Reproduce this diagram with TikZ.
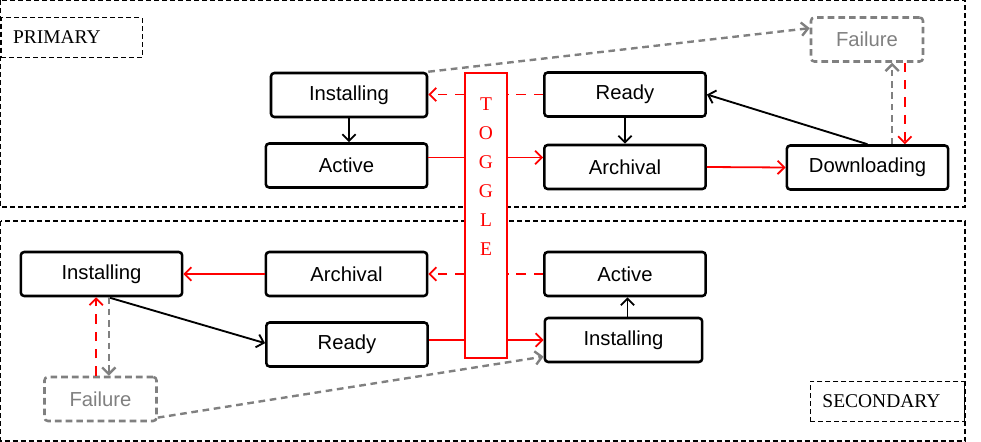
\documentclass[tikz,border=0pt]{standalone}
\usepackage{fontspec}
\setmainfont{Liberation Serif}
\setsansfont{Liberation Sans}
\usetikzlibrary{arrows.meta}

\definecolor{togred}{RGB}{255,0,0}
\definecolor{failgray}{RGB}{128,128,128}

\tikzset{
  >={Straight Barb[length=5pt,width=10pt]},
  region/.style={draw, line width=0.8pt, dash pattern=on 3.75pt off 2.25pt},
  tag/.style={region, minimum height=30pt, inner xsep=9pt, inner ysep=0pt, text width=87.75pt, align=left, font=\fontsize{14.6}{17}\selectfont},
  state/.style={draw, line width=1.9pt, rounded corners=2.5pt, minimum width=121pt, minimum height=33pt, inner sep=0pt, font=\sffamily\fontsize{15.2}{17}\selectfont},
  failstate/.style={state, draw=failgray, text=failgray, dash pattern=on 5pt off 3pt, minimum width=84pt},
  togglebox/.style={draw=togred, line width=1pt, fill=white, minimum width=31.5pt, minimum height=213.75pt, inner sep=0pt},
  toggletext/.style={text=togred, align=center, inner sep=0pt, font=\fontsize{14.6}{21.75}\selectfont},
  flow/.style={->, line width=1.4pt},
  togline/.style={draw=togred, line width=1.35pt},
  togdash/.style={togline, dash pattern=on 7pt off 6pt},
  faildash/.style={->, draw=failgray, line width=1.8pt, dash pattern=on 5pt off 3.5pt}
}

\begin{document}
\begin{tikzpicture}[x=0.75pt,y=0.75pt,yscale=-1,xscale=1]
\useasboundingbox (0,0) rectangle (981,442);

% regions
\draw[region] (0.5,0.5) rectangle (965,207);
\draw[region] (0.5,221) rectangle (965,441);
\node[tag, anchor=north west] (primtag) at (0.5,17) {PRIMARY};
\node[tag, anchor=south east, text width=97.5pt] (sectag) at (965,422) {SECONDARY};

% toggle
\node[togglebox] (toggle) at (486,215.5) {};
\node[toggletext, anchor=north] (togtxt) at (486,97) {T\\O\\G\\G\\L\\E};

% primary states
\node[state, minimum width=117pt] (inst1) at (349,95) {Installing};
\node[state] (act1) at (346.5,165.5) {Active};
\node[state] (rdy1) at (625,94.5) {Ready};
\node[state] (arc1) at (625,167) {Archival};
\node[state] (dwn1) at (867.5,167.5) {Downloading};
\node[failstate] (fail1) at (867,39.5) {Failure};

% secondary states
\node[state] (inst2) at (101.5,274) {Installing};
\node[state] (arc2) at (346.5,274) {Archival};
\node[state] (rdy2) at (347,344.5) {Ready};
\node[failstate] (fail2) at (100.5,399) {Failure};
\node[state] (act2) at (625,274) {Active};
\node[state, minimum width=118pt] (inst3) at (623.5,340) {Installing};

% primary transitions
\draw[flow] (inst1.south) -- (inst1.south |- act1.north);
\draw[flow] (rdy1.south) -- (arc1.north);
\draw[flow] (dwn1.north) -- (rdy1.east);
\draw[togline, ->] (arc1.east) -- (dwn1.west);
\draw[togline] ([yshift=-6pt]act1.east) -- ([yshift=-6pt]act1.east -| toggle.west);
\draw[togline, ->] ([yshift=-6pt]act1.east -| toggle.east) -- ([yshift=-6pt]act1.east -| arc1.west);
\draw[togdash] (rdy1.west) -- (rdy1.west -| toggle.east);
\draw[togdash, ->] (rdy1.west -| toggle.west) -- (rdy1.west -| inst1.east);
\draw[faildash] (inst1.north east) -- ([yshift=-8.5pt]fail1.west);
\draw[faildash] ([xshift=18.5pt]dwn1.north) -- ([xshift=18.5pt]dwn1.north |- fail1.south);
\draw[togdash, ->] ([xshift=28pt]dwn1.north |- fail1.south) -- ([xshift=28pt]dwn1.north);

% secondary transitions
\draw[togline, ->] (arc2.west) -- (inst2.east);
\draw[togdash] (act2.west) -- (act2.west -| toggle.east);
\draw[togdash, ->] (act2.west -| toggle.west) -- (act2.west -| arc2.east);
\draw[flow] ([xshift=5pt]inst2.south) -- ([yshift=-1pt]rdy2.west);
\draw[togline] (inst3.west -| rdy2.east) -- (inst3.west -| toggle.west);
\draw[togline, ->] (inst3.west -| toggle.east) -- (inst3.west);
\draw[flow] ([xshift=3pt]inst3.north) -- ([xshift=3pt]inst3.north |- act2.south);
\draw[faildash] ([yshift=-3.5pt]fail2.south east) -- ([yshift=-5pt]inst3.south west);
\draw[faildash] ([xshift=5.5pt]inst2.south) -- ([xshift=5.5pt]inst2.south |- fail2.north);
\draw[togdash, ->] ([xshift=-4pt]inst2.south |- fail2.north) -- ([xshift=-4pt]inst2.south);
\end{tikzpicture}
\end{document}
